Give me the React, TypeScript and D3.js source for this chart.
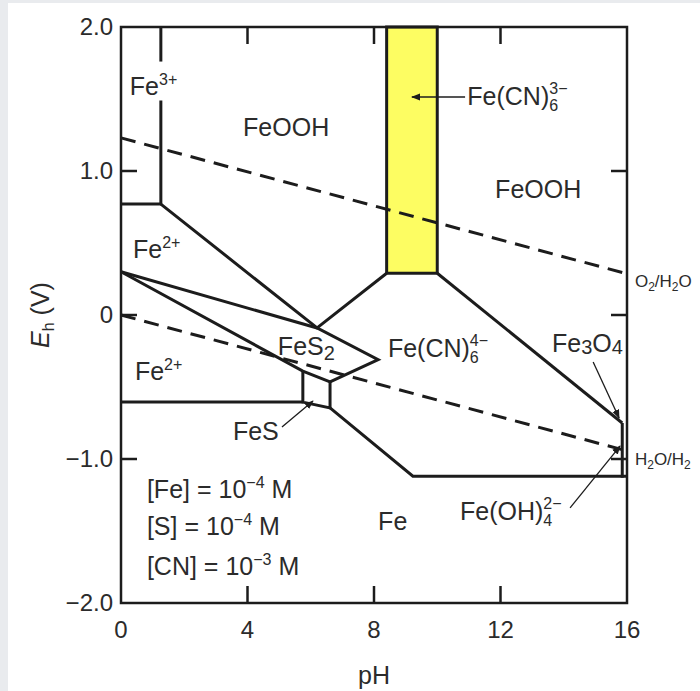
import React from "react";
import * as d3 from "d3";

const W = 700;
const H = 691;
const pHDomain: [number, number] = [0, 16];
const EhDomain: [number, number] = [-2, 2];
const xTicks = [0, 4, 8, 12, 16];
const xTickLabels = ["0", "4", "8", "12", "16"];
const yTicks = [-2, -1, 0, 1, 2];
const yTickLabels = ["\u22122.0", "\u22121.0", "0", "1.0", "2.0"];
const innerTicksX = [4, 8, 12];
const innerTicksY = [-1, 0, 1];

type P = [number, number];
// solid boundaries [pH, Eh]
const fe3UpperSeg: P[] = [[1.26, 2.0], [1.26, 1.76]];
const fe3LowerSeg: P[] = [[1.26, 1.49], [1.26, 0.77], [0, 0.77]];
const feoohFe2: P[] = [[1.26, 0.77], [6.2, -0.09], [8.4, 0.29]];
const cnBand = { pH0: 8.4, pH1: 10.0, e0: 0.29, e1: 2.0 };
const feoohCN4: P[] = [[10.0, 0.29], [15.85, -0.75]];
const fe2Upper: P[] = [[0, 0.3], [6.2, -0.09], [8.13, -0.31], [6.61, -0.465]];
const fe2Lower: P[] = [[0, 0.3], [5.75, -0.39], [6.61, -0.465]];
const fesBox: P[] = [[5.75, -0.39], [5.75, -0.605], [6.61, -0.645], [6.61, -0.465]];
const fe2Fe: P[] = [[0, -0.605], [5.75, -0.605]];
const feLine: P[] = [[6.61, -0.645], [9.23, -1.12], [16, -1.12]];
const fe3o4Band: P[] = [[15.85, -0.75], [15.85, -1.13]];
// water lines
const o2h2o: P[] = [[0, 1.23], [16, 0.286]];
const h2oh2: P[] = [[0, 0], [16, -0.944]];
// arrows [from, to]
const arrows: [P, P][] = [
  [[10.88, 1.514], [9.2, 1.514]],
  [[14.93, -0.326], [15.75, -0.715]],
  [[14.2, -1.34], [15.78, -0.91]],
  [[5.09, -0.778], [6.07, -0.597]],
];

const FONT = "'Liberation Sans', Arial, Helvetica, sans-serif";
const INK = "#1c1c1c";
const TXT = "#2b2b2b";

export default function App() {
  const x = d3.scaleLinear().domain(pHDomain).range([121, 627]);
  const y = d3.scaleLinear().domain(EhDomain).range([603, 27]);
  const line = d3
    .line<P>()
    .x((d) => x(d[0]))
    .y((d) => y(d[1]));

  const solid = [fe3UpperSeg, fe3LowerSeg, feoohFe2, feoohCN4, fe2Upper, fe2Lower, fesBox, fe2Fe, feLine, fe3o4Band];

  const fs = 25;
  const small = 16;
  const lbl = (pH: number, e: number) => ({ x: x(pH), y: y(e) });

  const L = {
    fe3: lbl(0.28, 1.53),
    feooh1: lbl(3.86, 1.243),
    cn3: lbl(10.95, 1.458),
    feooh2: lbl(11.83, 0.8125),
    fe2a: lbl(0.38, 0.396),
    fes2: lbl(4.96, -0.278),
    cn4: lbl(8.44, -0.292),
    fe3o4: lbl(13.63, -0.257),
    fe2b: lbl(0.44, -0.451),
    fes: lbl(3.54, -0.868),
    fe: lbl(8.13, -1.493),
    feoh4: lbl(10.72, -1.424),
    c1: lbl(0.82, -1.271),
    c2: lbl(0.82, -1.528),
    c3: lbl(0.82, -1.806),
    o2: lbl(16.25, 0.194),
    h2: lbl(16.25, -1.042),
  };

  return (
    <svg
      width={W}
      height={H}
      style={{ position: "absolute", left: 0, top: 0 }}
      fontFamily={FONT}
    >
      <defs>
        <marker id="ah" viewBox="0 0 10 10" refX="9" refY="5" markerWidth="9" markerHeight="9" markerUnits="userSpaceOnUse" orient="auto">
          <path d="M0,1 L10,5 L0,9 Z" fill={INK} />
        </marker>
      </defs>
      <rect x={0} y={0} width={W} height={H} fill="#e9ebee" />
      <rect x={8} y={3} width={W - 8} height={H - 3} fill="#ffffff" />

      {/* yellow band */}
      <rect
        x={x(cnBand.pH0)}
        y={y(cnBand.e1)}
        width={x(cnBand.pH1) - x(cnBand.pH0)}
        height={y(cnBand.e0) - y(cnBand.e1)}
        fill="#fdfd62"
        stroke={INK}
        strokeWidth={3}
      />

      {/* dashed water lines */}
      {[o2h2o, h2oh2].map((d, i) => (
        <path key={"w" + i} d={line(d) || ""} fill="none" stroke={INK} strokeWidth={3} strokeDasharray="15 9" />
      ))}

      {/* boundaries */}
      {solid.map((d, i) => (
        <path key={"s" + i} d={line(d) || ""} fill="none" stroke={INK} strokeWidth={3} strokeLinejoin="miter" />
      ))}

      {/* arrows */}
      {arrows.map((a, i) => (
        <line
          key={"a" + i}
          x1={x(a[0][0])}
          y1={y(a[0][1])}
          x2={x(a[1][0])}
          y2={y(a[1][1])}
          stroke={INK}
          strokeWidth={1.3}
          markerEnd="url(#ah)"
        />
      ))}

      {/* frame */}
      <rect x={x(0)} y={y(2)} width={x(16) - x(0)} height={y(-2) - y(2)} fill="none" stroke={INK} strokeWidth={2.5} />
      {innerTicksX.map((t) => (
        <g key={"tx" + t}>
          <line x1={x(t)} x2={x(t)} y1={y(-2)} y2={y(-2) - 17} stroke={INK} strokeWidth={2.5} />
          <line x1={x(t)} x2={x(t)} y1={y(2)} y2={y(2) + 17} stroke={INK} strokeWidth={2.5} />
        </g>
      ))}
      {innerTicksY.map((t) => (
        <g key={"ty" + t}>
          <line x1={x(0)} x2={x(0) + 16} y1={y(t)} y2={y(t)} stroke={INK} strokeWidth={2.5} />
          <line x1={x(16)} x2={x(16) - 16} y1={y(t)} y2={y(t)} stroke={INK} strokeWidth={2.5} />
        </g>
      ))}

      {/* tick labels */}
      <g fill={TXT} fontSize={24}>
        {xTicks.map((t, i) => (
          <text key={"xl" + t} x={x(t)} y={638} textAnchor="middle">
            {xTickLabels[i]}
          </text>
        ))}
        {yTicks.map((t, i) => (
          <text key={"yl" + t} x={113} y={y(t) + 8} textAnchor="end">
            {yTickLabels[i]}
          </text>
        ))}
      </g>

      {/* axis titles */}
      <text x={374} y={684} textAnchor="middle" fontSize={fs} fill={TXT}>
        pH
      </text>
      <text transform="translate(49,315) rotate(-90)" textAnchor="middle" fontSize={fs} fill={TXT}>
        <tspan fontStyle="italic">E</tspan>
        <tspan fontSize={small} dy={5}>h</tspan>
        <tspan dy={-5}> (V)</tspan>
      </text>

      {/* region labels */}
      <g fill={TXT} fontSize={fs}>
        <text x={L.fe3.x} y={L.fe3.y}>
          Fe<tspan fontSize={small} dy={-10}>3+</tspan>
        </text>
        <text x={L.feooh1.x} y={L.feooh1.y}>FeOOH</text>
        <text x={L.cn3.x} y={L.cn3.y}>
          Fe(CN)<tspan fontSize={small} dy={6}>6</tspan>
          <tspan fontSize={small} dx={-8.9} dy={-17}>3−</tspan>
        </text>
        <text x={L.feooh2.x} y={L.feooh2.y}>FeOOH</text>
        <text x={L.fe2a.x} y={L.fe2a.y}>
          Fe<tspan fontSize={small} dy={-10}>2+</tspan>
        </text>
        <text x={L.fes2.x} y={L.fes2.y}>
          FeS<tspan fontSize={small + 4} dy={5}>2</tspan>
        </text>
        <text x={L.cn4.x} y={L.cn4.y}>
          Fe(CN)<tspan fontSize={small} dy={6}>6</tspan>
          <tspan fontSize={small} dx={-8.9} dy={-17}>4−</tspan>
        </text>
        <text x={L.fe3o4.x} y={L.fe3o4.y}>
          Fe<tspan fontSize={20} dy={2}>3</tspan>
          <tspan dy={-2}>O</tspan>
          <tspan fontSize={20} dy={2}>4</tspan>
        </text>
        <text x={L.fe2b.x} y={L.fe2b.y}>
          Fe<tspan fontSize={small} dy={-10}>2+</tspan>
        </text>
        <text x={L.fes.x} y={L.fes.y}>FeS</text>
        <text x={L.fe.x} y={L.fe.y}>Fe</text>
        <text x={L.feoh4.x} y={L.feoh4.y}>
          Fe(OH)<tspan fontSize={small} dy={6}>4</tspan>
          <tspan fontSize={small} dx={-8.9} dy={-17}>2−</tspan>
        </text>
        <text x={L.c1.x} y={L.c1.y}>
          [Fe] = 10<tspan fontSize={small} dy={-10}>−4</tspan>
          <tspan dy={10}> M</tspan>
        </text>
        <text x={L.c2.x} y={L.c2.y}>
          [S] = 10<tspan fontSize={small} dy={-10}>−4</tspan>
          <tspan dy={10}> M</tspan>
        </text>
        <text x={L.c3.x} y={L.c3.y}>
          [CN] = 10<tspan fontSize={small} dy={-10}>−3</tspan>
          <tspan dy={10}> M</tspan>
        </text>
      </g>
      <g fill={TXT} fontSize={17}>
        <text x={L.o2.x} y={L.o2.y}>
          O<tspan fontSize={12} dy={4}>2</tspan>
          <tspan dy={-4}>/H</tspan>
          <tspan fontSize={12} dy={4}>2</tspan>
          <tspan dy={-4}>O</tspan>
        </text>
        <text x={L.h2.x} y={L.h2.y}>
          H<tspan fontSize={12} dy={4}>2</tspan>
          <tspan dy={-4}>O/H</tspan>
          <tspan fontSize={12} dy={4}>2</tspan>
        </text>
      </g>
    </svg>
  );
}
